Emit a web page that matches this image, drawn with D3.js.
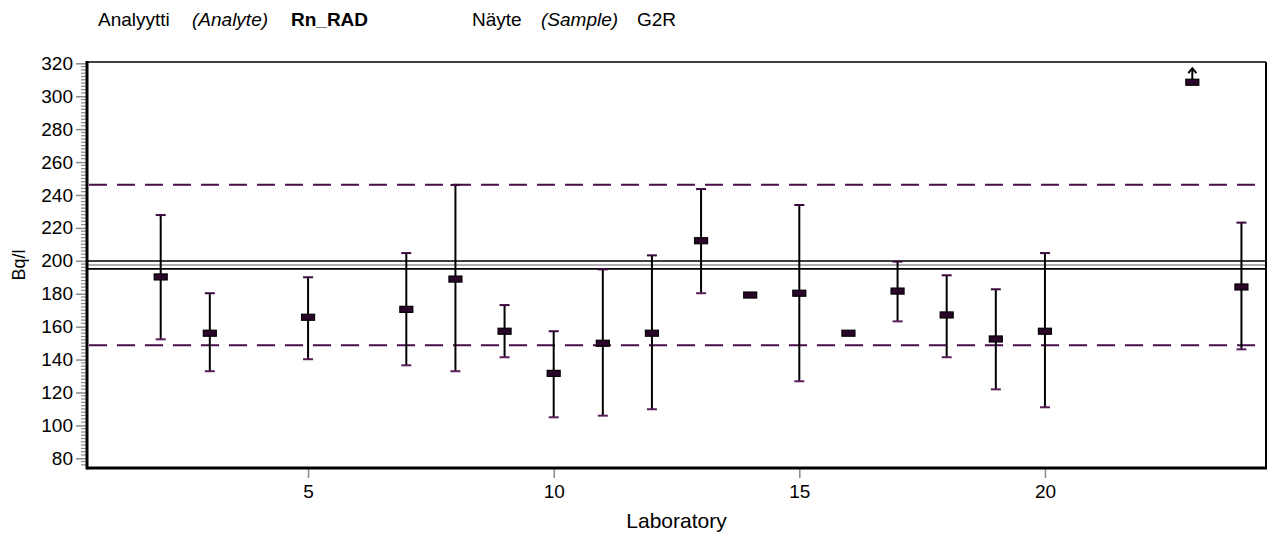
<!DOCTYPE html>
<meta charset="utf-8">
<script src="https://d3js.org/d3.v7.min.js"></script>
<style>
  body { margin: 0; background: #fff; }
  text { font-family: "Liberation Sans", Arial, sans-serif; fill: #000; }
</style>
<div id="chart"></div>
<script>

// laboratory results
var labs   = [2, 3, 5, 7, 8, 9, 10, 11, 12, 13, 14, 15, 16, 17, 18, 19, 20, 23, 24];
var values = [190.2, 156, 165.7, 170.5, 188.9, 157.2, 131.6, 149.9, 156, 212.2, 179.2, 180.3, 156, 181.6, 167.1, 152.5, 157.2, 308.5, 184.1];
var upper  = [227.8, 180.3, 190, 204.7, 246.1, 173.1, 157.2, 194.8, 203.3, 243.6, null, 233.9, null, 199.5, 191.2, 182.7, 204.7, null, 223.2];
var lower  = [152.3, 132.9, 140.2, 136.5, 132.9, 141.4, 104.9, 105.9, 109.8, 180.3, null, 126.8, null, 163.2, 141.4, 121.9, 111, null, 146.2];
var offScale = [23];   // result above the plotted range, drawn with an arrow

// assigned value, its uncertainty and the acceptance limits
var assigned = 197.5;
var assignedUnc = 2.4;
var limits = [148.7, 246.2];

var xTicks = [5, 10, 15, 20];
var yTicks = [80, 100, 120, 140, 160, 180, 200, 220, 240, 260, 280, 300, 320];

var width = 1273, height = 539;
var mLeft = 87, mRight = 1266, mTop = 62, mBottom = 468;

var svg = d3.select("#chart").append("svg")
  .attr("width", width)
  .attr("height", height);

var x = d3.scaleLinear().domain([0.5, 24.5]).range([mLeft, mRight]);
var y = d3.scaleLinear().domain([74.1, 320.8]).range([mBottom, mTop]);

var data = labs.map(function(d, i) {
  return { lab: d, v: values[i], hi: upper[i], lo: lower[i], off: offScale.indexOf(d) >= 0 };
});

// header
var header = svg.append("g").attr("font-size", 19);
header.append("text").attr("x", 98).attr("y", 26).text("Analyytti");
header.append("text").attr("x", 192).attr("y", 26).attr("font-style", "italic").text("(Analyte)");
header.append("text").attr("x", 291).attr("y", 26).attr("font-weight", "bold").text("Rn_RAD");
header.append("text").attr("x", 472).attr("y", 26).text("Näyte");
header.append("text").attr("x", 541).attr("y", 26).attr("font-style", "italic").text("(Sample)");
header.append("text").attr("x", 637).attr("y", 26).text("G2R");

// minor y ticks every 2 units
var minor = d3.range(76, 321, 2).filter(function(d) { return d % 20 != 0; });
svg.append("g").selectAll("line").data(minor).enter().append("line")
  .attr("x1", mLeft - 6).attr("x2", mLeft)
  .attr("y1", function(d) { return y(d); }).attr("y2", function(d) { return y(d); })
  .attr("stroke", "#8a8a8a").attr("stroke-width", 1.2);

// y axis
var yAxis = svg.append("g")
  .attr("transform", "translate(" + mLeft + ",0)")
  .call(d3.axisLeft(y).tickValues(yTicks).tickSize(11).tickPadding(3));
yAxis.select(".domain").remove();
yAxis.selectAll(".tick line").attr("stroke", "#8a8a8a").attr("stroke-width", 1.5);
yAxis.selectAll(".tick text").attr("font-size", 19).attr("font-family", "Liberation Sans, Arial, sans-serif").attr("fill", "#000");

// x axis
var xAxis = svg.append("g")
  .attr("transform", "translate(0," + mBottom + ")")
  .call(d3.axisBottom(x).tickValues(xTicks).tickSize(10).tickPadding(7));
xAxis.select(".domain").remove();
xAxis.selectAll(".tick line").attr("stroke", "#8a8a8a").attr("stroke-width", 1.5);
xAxis.selectAll(".tick text").attr("font-size", 19).attr("font-family", "Liberation Sans, Arial, sans-serif").attr("fill", "#000");

// axis titles
svg.append("text")
  .attr("x", (mLeft + mRight) / 2).attr("y", 528)
  .attr("text-anchor", "middle").attr("font-size", 21)
  .text("Laboratory");
svg.append("text")
  .attr("transform", "translate(25," + ((mTop + mBottom) / 2) + ") rotate(-90)")
  .attr("text-anchor", "middle").attr("font-size", 18)
  .text("Bq/l");

// acceptance limits
svg.append("g").selectAll("line").data(limits).enter().append("line")
  .attr("x1", mLeft + 2).attr("x2", mRight - 5)
  .attr("y1", function(d) { return y(d); }).attr("y2", function(d) { return y(d); })
  .attr("stroke", "#4a0c4a").attr("stroke-width", 2)
  .attr("stroke-dasharray", "18,10");

// assigned value with uncertainty
var refs = [assigned + assignedUnc, assigned, assigned - assignedUnc];
svg.append("g").selectAll("line").data(refs).enter().append("line")
  .attr("x1", mLeft).attr("x2", mRight + 1)
  .attr("y1", function(d) { return y(d); }).attr("y2", function(d) { return y(d); })
  .attr("stroke", function(d, i) { return i == 1 ? "#b0b0b0" : "#000"; })
  .attr("stroke-width", function(d, i) { return i == 1 ? 2 : 1.6; });

// error bars
var bars = data.filter(function(d) { return d.hi != null; });
var eb = svg.append("g");
eb.selectAll(".stem").data(bars).enter().append("line")
  .attr("x1", function(d) { return x(d.lab); }).attr("x2", function(d) { return x(d.lab); })
  .attr("y1", function(d) { return y(d.hi); }).attr("y2", function(d) { return y(d.lo); })
  .attr("stroke", "#000").attr("stroke-width", 2);
eb.selectAll(".capHi").data(bars).enter().append("line")
  .attr("x1", function(d) { return x(d.lab) - 5; }).attr("x2", function(d) { return x(d.lab) + 5; })
  .attr("y1", function(d) { return y(d.hi); }).attr("y2", function(d) { return y(d.hi); })
  .attr("stroke", "#3c0a3c").attr("stroke-width", 2);
eb.selectAll(".capLo").data(bars).enter().append("line")
  .attr("x1", function(d) { return x(d.lab) - 5; }).attr("x2", function(d) { return x(d.lab) + 5; })
  .attr("y1", function(d) { return y(d.lo); }).attr("y2", function(d) { return y(d.lo); })
  .attr("stroke", "#5a1e5a").attr("stroke-width", 2);

// result markers
svg.append("g").selectAll("rect").data(data).enter().append("rect")
  .attr("x", function(d) { return x(d.lab) - 6.5; })
  .attr("y", function(d) { return y(d.v) - 3; })
  .attr("width", 13).attr("height", 6)
  .attr("fill", "#2a062a").attr("stroke", "#000").attr("stroke-width", 1.2);

// arrow for off-scale result
var off = data.filter(function(d) { return d.off; });
var arrows = svg.append("g");
arrows.selectAll("line").data(off).enter().append("line")
  .attr("x1", function(d) { return x(d.lab); }).attr("x2", function(d) { return x(d.lab); })
  .attr("y1", function(d) { return y(d.v) - 3; }).attr("y2", function(d) { return y(d.v) - 14; })
  .attr("stroke", "#000").attr("stroke-width", 2);
arrows.selectAll("path").data(off).enter().append("path")
  .attr("d", function(d) {
    var cx = x(d.lab), cy = y(d.v) - 14;
    return "M" + (cx - 4) + "," + (cy + 5) + "L" + cx + "," + cy + "L" + (cx + 4) + "," + (cy + 5);
  })
  .attr("fill", "none").attr("stroke", "#000").attr("stroke-width", 2);

// frame
var frame = svg.append("g").attr("stroke", "#000").attr("fill", "none");
frame.append("line").attr("x1", mLeft).attr("x2", mRight).attr("y1", mTop).attr("y2", mTop).attr("stroke-width", 1.5);
frame.append("line").attr("x1", mRight).attr("x2", mRight).attr("y1", mTop).attr("y2", mBottom).attr("stroke-width", 2);
frame.append("line").attr("x1", mLeft).attr("x2", mLeft).attr("y1", mTop - 1).attr("y2", mBottom + 1.5).attr("stroke-width", 3);
frame.append("line").attr("x1", mLeft).attr("x2", mRight + 1).attr("y1", mBottom).attr("y2", mBottom).attr("stroke-width", 3);

</script>
